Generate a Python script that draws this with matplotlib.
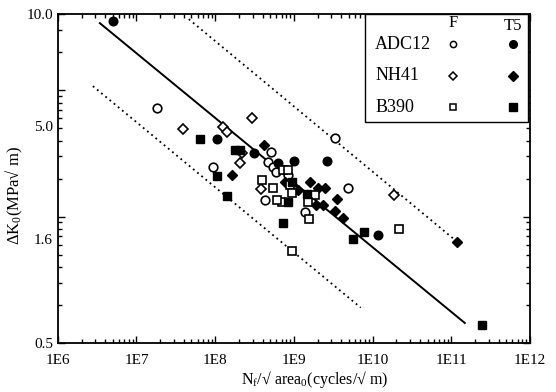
import numpy as np
import matplotlib
matplotlib.use("Agg")
import matplotlib.pyplot as plt
from matplotlib.ticker import FixedLocator, NullFormatter
from matplotlib.transforms import ScaledTranslation
from matplotlib.patches import Rectangle

plt.rcParams['font.family'] = ['Liberation Serif', 'DejaVu Serif']
plt.rcParams['mathtext.fontset'] = 'custom'
plt.rcParams['mathtext.rm'] = 'Liberation Serif'
plt.rcParams['mathtext.it'] = 'Liberation Serif:italic'

# data: (cycles/sqrt(area), dK0)
adc12_f_x = [1.81e7, 9.3e7, 5.09e8, 4.66e8, 5.40e8, 5.89e8, 8.36e8, 4.27e8, 1.37e9, 3.31e9, 4.84e9]
adc12_f_y = [4.25, 2.48, 2.85, 2.60, 2.48, 2.37, 2.31, 1.84, 1.65, 3.23, 2.05]
adc12_t5_x = [5.0e6, 1.05e8, 3.09e8, 6.24e8, 9.97e8, 2.62e9, 1.16e10]
adc12_t5_y = [9.38, 3.20, 2.82, 2.58, 2.62, 2.62, 1.34]
nh41_f_x = [3.87e7, 1.25e8, 1.40e8, 2.92e8, 2.18e8, 2.05e8, 3.80e8, 9.68e8, 1.86e10]
nh41_f_y = [3.51, 3.57, 3.41, 3.88, 2.82, 2.58, 2.03, 2.05, 1.92]
nh41_t5_x = [4.15e8, 1.63e8, 7.66e8, 1.12e9, 1.59e9, 2.01e9, 2.47e9, 1.90e9, 2.33e9, 3.51e9, 3.31e9, 4.18e9, 1.17e11]
nh41_t5_y = [3.03, 2.31, 2.17, 2.01, 2.17, 2.05, 2.05, 1.76, 1.76, 1.85, 1.66, 1.56, 1.25]
b390_f_x = [3.91e8, 5.40e8, 7.23e8, 8.36e8, 8.87e8, 9.40e8, 7.02e8, 1.85e9, 1.50e9, 1.55e9, 9.40e8, 2.15e10, 6.07e8]
b390_f_y = [2.21, 2.05, 2.42, 2.42, 2.11, 1.96, 1.81, 1.92, 1.81, 1.55, 1.16, 1.41, 1.84]
b390_t5_x = [6.37e7, 1.77e8, 2.05e8, 1.05e8, 1.40e8, 9.40e8, 8.36e8, 1.46e9, 7.23e8, 5.60e9, 7.73e9, 2.44e11]
b390_t5_y = [3.20, 2.90, 2.90, 2.29, 1.91, 2.17, 1.81, 1.94, 1.49, 1.29, 1.37, 0.59]

# fitted line and scatter band (end points)
fit_x = [3.42e6, 1.49e11]
fit_y = [9.21, 0.60]
upper_x = [4.62e7, 1.11e11]
upper_y = [9.55, 1.28]
lower_x = [2.79e6, 7.08e9]
lower_y = [5.19, 0.69]

y_ticks = [0.5, 1.58, 5.0, 10.0]
y_tick_labels = ['0.5', '1.6', '5.0', '10.0']
x_ticks = [1e6, 1e7, 1e8, 1e9, 1e10, 1e11, 1e12]
x_tick_labels = ['1E6', '1E7', '1E8', '1E9', '1E10', '1E11', '1E12']

fig = plt.figure(figsize=(5.56, 3.92), dpi=100)
ax = fig.add_axes([0.104, 0.125, 0.849, 0.839])
ax.set_xscale('log')
ax.set_yscale('log')
ax.set_xlim(1e6, 1e12)
ax.set_ylim(0.5, 10.0)

ax.plot(fit_x, fit_y, color='black', lw=1.4)
ax.plot(upper_x, upper_y, color='black', lw=1.3, ls=(0, (1, 2)))
ax.plot(lower_x, lower_y, color='black', lw=1.3, ls=(0, (1, 2)))

ms = 6.2
ax.plot(adc12_f_x, adc12_f_y, 'o', ms=ms, mfc='white', mec='black', mew=1.2, ls='none')
ax.plot(adc12_t5_x, adc12_t5_y, 'o', ms=ms, mfc='black', mec='black', ls='none')
ax.plot(nh41_f_x, nh41_f_y, 'D', ms=ms - 0.9, mfc='white', mec='black', mew=1.2, ls='none')
ax.plot(nh41_t5_x, nh41_t5_y, 'D', ms=ms - 0.9, mfc='black', mec='black', ls='none')
ax.plot(b390_f_x, b390_f_y, 's', ms=ms - 0.5, mfc='white', mec='black', mew=1.2, ls='none')
ax.plot(b390_t5_x, b390_t5_y, 's', ms=ms, mfc='black', mec='black', ls='none')

# ticks
ax.set_xticks(x_ticks)
ax.set_xticklabels(x_tick_labels)
ax.xaxis.set_minor_formatter(NullFormatter())
ax.set_yticks(y_ticks)
ax.set_yticklabels(y_tick_labels)
y_minor = []
for base, top in [(0.5, 1.58), (1.58, 5.0), (5.0, 10.0)]:
    for k in range(2, 10):
        v = base * np.sqrt(k)
        if v < top * 0.999:
            y_minor.append(v)
ax.yaxis.set_minor_locator(FixedLocator(y_minor))
ax.yaxis.set_minor_formatter(NullFormatter())
ax.tick_params(which='both', direction='in', top=True, right=True, labelsize=11)
ax.tick_params(which='major', length=5, width=1)
ax.tick_params(which='minor', length=3, width=1)
ax.tick_params(axis='x', pad=8)
for s in ax.spines.values():
    s.set_linewidth(1.3)

# the printed y labels sit below their ticks in the original
for lab, dy in zip(ax.get_yticklabels(), [0, 16, 26, 0]):
    lab.set_transform(lab.get_transform() + ScaledTranslation(0, -dy / 72, fig.dpi_scale_trans))

ax.set_xlabel('N$_\\mathrm{f}$/\u221a area$_\\mathrm{0}$(cycles/\u221a m)', fontsize=11.5)
ax.xaxis.set_label_coords(0.545, -0.078)
ax.set_ylabel('\u0394K$_\\mathrm{0}$(MPa\u221a m)', fontsize=12)
ax.yaxis.set_label_coords(-0.07, 0.45)

# legend box drawn by hand: label, F marker, T5 marker
ax.add_patch(Rectangle((0.650, 0.672), 0.346, 0.328, transform=ax.transAxes,
                       fill=True, fc='white', ec='black', lw=1.0, zorder=5))
ax.text(0.837, 0.972, 'F', transform=ax.transAxes, ha='center', va='center', fontsize=12, zorder=6)
ax.text(0.964, 0.964, 'T5', transform=ax.transAxes, ha='center', va='center', fontsize=12, zorder=6)
rows = [('ADC12', 'o', 4.5), ('NH41', 'D', 4.5), ('B390', 's', 4.5)]
row_y = [0.909, 0.812, 0.717]
for (name, mk, size), yy in zip(rows, row_y):
    ax.text(0.672, yy, name, transform=ax.transAxes, ha='left', va='center', fontsize=13, zorder=6)
    ax.plot([0.837], [yy], mk, ms=size, mfc='white', mec='black', mew=1.1,
            transform=ax.transAxes, zorder=6, clip_on=False)
    ax.plot([0.964], [yy], mk, ms=size + 1, mfc='black', mec='black',
            transform=ax.transAxes, zorder=6, clip_on=False)

fig.savefig('out.png', dpi=100)
